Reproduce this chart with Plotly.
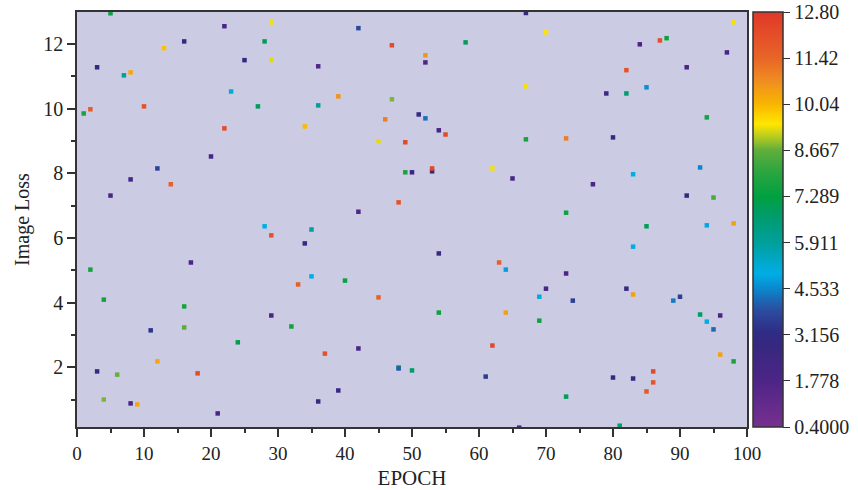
import plotly.graph_objects as go

epoch = [5, 22, 16, 13, 25, 3, 7, 8, 23, 10, 2, 1, 22, 20, 12, 8, 14, 5,
         29, 42, 28, 47, 29, 36, 39, 47, 27, 36, 34, 46, 45, 49, 49, 50, 48, 42,
         67, 70, 58, 52, 52, 67, 51, 52, 54, 55, 67, 73, 53, 53, 62, 65, 73,
         98, 84, 87, 88, 97, 91, 82, 85, 79, 82, 94, 80, 93, 83, 77, 91, 95,
         17, 2, 4, 16, 16, 11, 24, 12, 3, 6, 18, 4, 8, 9, 21,
         28, 29, 35, 34, 35, 33, 40, 45, 29, 32, 37, 42, 48, 48, 50, 39, 36,
         54, 63, 64, 73, 70, 69, 74, 54, 64, 69, 62, 61, 73, 66,
         85, 94, 98, 83, 82, 83, 89, 90, 93, 96, 94, 95, 96, 98, 86, 86, 85, 80, 83, 81]

image_loss = [12.95, 12.55, 12.08, 11.87, 11.50, 11.28, 11.03, 11.12, 10.53, 10.07, 9.98, 9.85, 9.39, 8.52, 8.15, 7.81, 7.66, 7.31,
              12.67, 12.49, 12.08, 11.96, 11.50, 11.31, 10.38, 10.29, 10.07, 10.10, 9.45, 9.67, 8.99, 8.96, 8.03, 8.03, 7.10, 6.81,
              12.96, 12.36, 12.05, 11.65, 11.43, 10.69, 9.82, 9.70, 9.33, 9.20, 9.05, 9.08, 8.06, 8.15, 8.15, 7.84, 6.78,
              12.67, 11.99, 12.11, 12.18, 11.74, 11.28, 11.19, 10.66, 10.47, 10.47, 9.73, 9.11, 8.18, 7.97, 7.66, 7.31, 7.25,
              5.24, 5.02, 4.09, 3.88, 3.23, 3.14, 2.77, 2.18, 1.87, 1.77, 1.81, 1.00, 0.88, 0.85, 0.57,
              6.36, 6.08, 6.26, 5.83, 4.81, 4.56, 4.68, 4.16, 3.60, 3.26, 2.42, 2.58, 1.99, 1.96, 1.90, 1.28, 0.94,
              5.52, 5.24, 5.02, 4.90, 4.43, 4.18, 4.06, 3.69, 3.69, 3.44, 2.67, 1.71, 1.09, 0.13,
              6.36, 6.39, 6.45, 5.73, 4.43, 4.25, 4.06, 4.18, 3.63, 3.60, 3.41, 3.17, 2.39, 2.18, 1.87, 1.53, 1.25, 1.68, 1.65, 0.19]

color_value = [7.5, 2.0, 3.0, 9.9, 2.9, 3.0, 6.0, 10.3, 5.2, 12.0, 11.7, 7.7, 12.2, 2.0, 3.7, 2.2, 11.5, 1.9,
               9.4, 3.8, 7.0, 12.2, 9.3, 1.6, 10.6, 8.8, 6.9, 6.0, 10.0, 11.0, 9.3, 12.3, 7.7, 2.8, 12.0, 1.6,
               2.8, 9.5, 6.9, 10.6, 1.7, 9.4, 3.0, 4.3, 1.9, 12.3, 7.7, 11.0, 2.8, 12.3, 9.4, 1.9, 7.5,
               9.4, 2.0, 12.1, 7.5, 2.0, 1.9, 12.0, 4.6, 2.5, 6.6, 7.6, 3.0, 4.5, 5.0, 2.0, 2.9, 8.4,
               1.9, 7.6, 7.6, 7.7, 8.6, 3.4, 7.1, 10.3, 3.0, 8.7, 12.2, 8.8, 2.0, 10.3, 1.9,
               5.0, 12.0, 5.9, 3.0, 5.0, 11.6, 7.4, 11.5, 1.9, 7.6, 12.0, 1.9, 7.2, 4.1, 6.8, 2.8, 2.8,
               2.8, 11.6, 4.8, 1.9, 1.9, 5.2, 3.6, 7.5, 10.4, 7.5, 12.3, 3.5, 6.9, 1.9,
               7.0, 4.9, 10.4, 5.0, 2.8, 10.4, 4.4, 3.6, 6.8, 1.9, 5.0, 4.2, 10.4, 7.7, 12.3, 11.9, 11.8, 3.0, 3.2, 6.8]

cbar_tickvals = [0.4, 1.778, 3.156, 4.533, 5.911, 7.289, 8.667, 10.04, 11.42, 12.8]
cbar_ticktext = ["0.4000", "1.778", "3.156", "4.533", "5.911", "7.289", "8.667", "10.04", "11.42", "12.80"]

colorscale = [
    [0.0, "#78308f"],
    [0.11, "#4d2587"],
    [0.2, "#36287f"],
    [0.23, "#2f2d86"],
    [0.28, "#2c4c9e"],
    [0.31, "#1a6cb8"],
    [0.335, "#0a8ad0"],
    [0.37, "#00aee6"],
    [0.44, "#00a0a0"],
    [0.51, "#009c6a"],
    [0.555, "#00a040"],
    [0.62, "#30a640"],
    [0.667, "#60ae3c"],
    [0.70, "#b8cc20"],
    [0.73, "#ffe600"],
    [0.78, "#f8b400"],
    [0.83, "#f09020"],
    [0.89, "#e86428"],
    [1.0, "#e03828"],
]

font_family = "Liberation Serif"

fig = go.Figure(
    go.Scatter(
        x=epoch,
        y=image_loss,
        mode="markers",
        marker=dict(
            symbol="square",
            size=4.5,
            color=color_value,
            colorscale=colorscale,
            cmin=0.4,
            cmax=12.8,
            line=dict(width=0),
            colorbar=dict(
                x=1.0,
                xanchor="left",
                xpad=6,
                y=0.5,
                yanchor="middle",
                len=1.0,
                lenmode="fraction",
                ypad=0,
                thickness=30,
                outlinewidth=1.5,
                outlinecolor="#333333",
                tickvals=cbar_tickvals,
                ticktext=cbar_ticktext,
                ticks="outside",
                ticklen=7,
                tickcolor="#333333",
                tickfont=dict(family=font_family, size=20, color="#222222"),
            ),
        ),
        showlegend=False,
    )
)

fig.update_layout(
    width=858,
    height=490,
    margin=dict(l=77, r=111, t=12, b=63, autoexpand=False),
    paper_bgcolor="white",
    plot_bgcolor="#cbcce4",
    font=dict(family=font_family, size=19, color="#222222"),
)

fig.update_xaxes(
    range=[0, 100],
    tickvals=[0, 10, 20, 30, 40, 50, 60, 70, 80, 90, 100],
    ticks="outside",
    ticklen=8,
    tickwidth=1.5,
    tickcolor="#333333",
    minor=dict(dtick=5, tick0=0, ticks="outside", ticklen=4, tickcolor="#333333", tickwidth=1.5),
    showgrid=False,
    zeroline=False,
    showline=True,
    linecolor="#333333",
    linewidth=1.5,
    mirror=True,
    title=dict(text="EPOCH", font=dict(family=font_family, size=21), standoff=8),
    tickfont=dict(family=font_family, size=19),
)

fig.update_yaxes(
    range=[0.15, 12.99],
    tickvals=[2, 4, 6, 8, 10, 12],
    ticks="outside",
    ticklen=8,
    tickwidth=1.5,
    tickcolor="#333333",
    minor=dict(tickvals=[1, 3, 5, 7, 9, 11], ticks="outside", ticklen=4, tickcolor="#333333", tickwidth=1.5),
    showgrid=False,
    zeroline=False,
    showline=True,
    linecolor="#333333",
    linewidth=1.5,
    mirror=True,
    title=dict(text="Image Loss", font=dict(family=font_family, size=20), standoff=8),
    tickfont=dict(family=font_family, size=20),
)

fig.write_html("out.html")
